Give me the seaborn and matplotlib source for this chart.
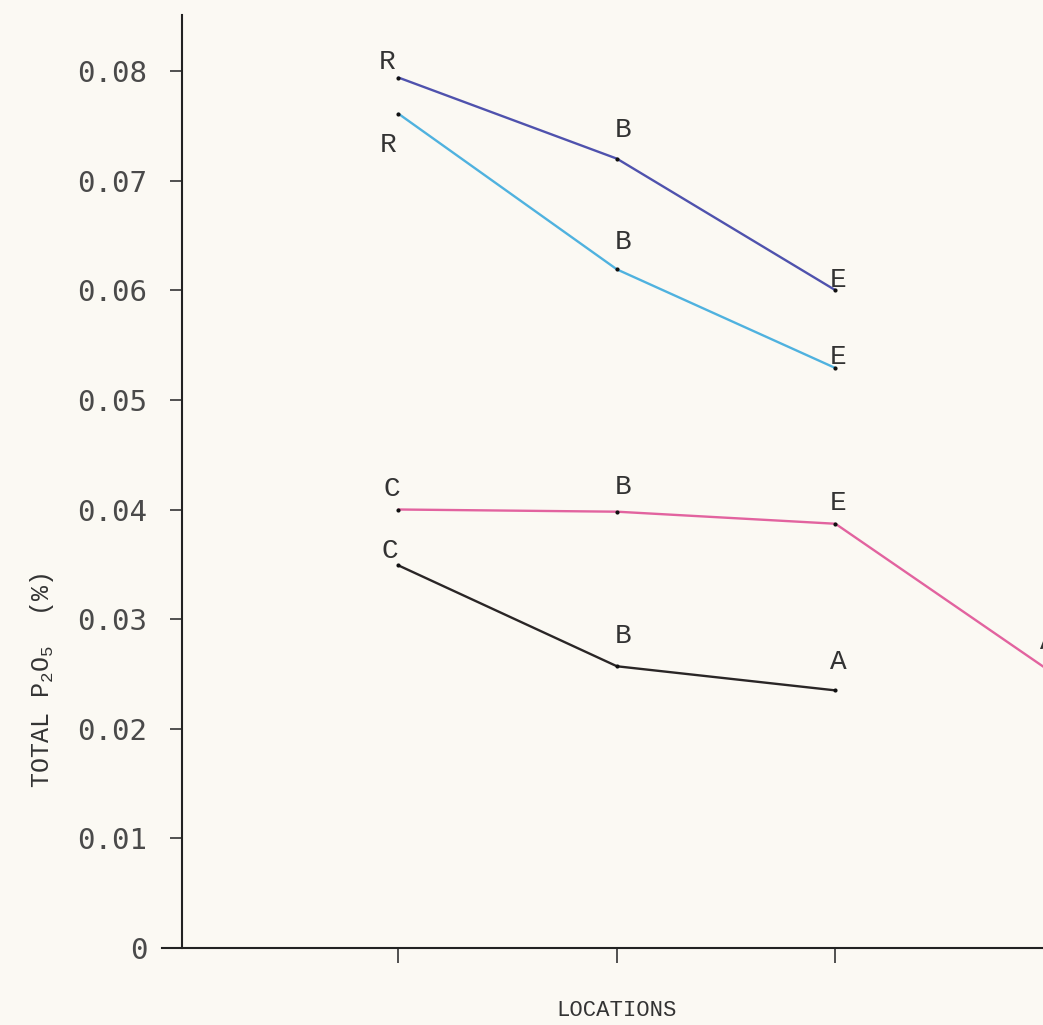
import matplotlib
matplotlib.use("Agg")
import matplotlib.pyplot as plt
import seaborn as sns
import pandas as pd
import numpy as np

# Series: location positions, P2O5 values and the location letter at each point
dark_x = [1, 2, 3]
dark_y = [0.0794, 0.0720, 0.0600]
dark_lab = ["R", "B", "E"]

light_x = [1, 2, 3]
light_y = [0.0761, 0.0619, 0.0529]
light_lab = ["R", "B", "E"]

pink_x = [1, 2, 3, 4]
pink_y = [0.0400, 0.0398, 0.0387, 0.0250]
pink_lab = ["C", "B", "E", "A"]

black_x = [1, 2, 3]
black_y = [0.0349, 0.0257, 0.0235]
black_lab = ["C", "B", "A"]

y_ticks = [0, 0.01, 0.02, 0.03, 0.04, 0.05, 0.06, 0.07, 0.08]
y_tick_labels = ["0", "0.01", "0.02", "0.03", "0.04", "0.05", "0.06", "0.07", "0.08"]
x_ticks = [1, 2, 3, 4]

series = {
    "upper": (dark_x, dark_y, dark_lab),
    "second": (light_x, light_y, light_lab),
    "third": (pink_x, pink_y, pink_lab),
    "lower": (black_x, black_y, black_lab),
}
colors = {"upper": "#4f52ad", "second": "#4fb2df", "third": "#e2639f", "lower": "#2a2626"}

frames = []
for name, (xs, ys, labs) in series.items():
    frames.append(pd.DataFrame({"loc": xs, "p2o5": ys, "series": name, "lab": labs}))
df = pd.concat(frames, ignore_index=True)

sns.set_theme(style="white")
paper = "#fbf9f3"
plt.rcParams["font.family"] = ["Liberation Mono", "DejaVu Sans Mono"]

fig = plt.figure(figsize=(10.43, 10.25), dpi=100, facecolor=paper)
ax = fig.add_axes([0.1558, 0.0751, 0.8442, 0.9102])
ax.set_facecolor(paper)

sns.lineplot(data=df, x="loc", y="p2o5", hue="series", palette=colors,
             sort=False, estimator=None, legend=False, linewidth=1.7, ax=ax)
sns.scatterplot(data=df, x="loc", y="p2o5", color="#111111", s=9,
                linewidth=0, legend=False, ax=ax, zorder=5)

# letter offsets (pixels) beside each point
offsets = {
    "upper": [(-11, 16), (6, 29), (3, 10)],
    "second": [(-10, -31), (6, 27), (3, 11)],
    "third": [(-7, 21), (6, 25), (3, 21), (-6, 32)],
    "lower": [(-9, 14), (6, 30), (3, 28)],
}
for name, (xs, ys, labs) in series.items():
    for (x, y, t), (dx, dy) in zip(zip(xs, ys, labs), offsets[name]):
        ax.annotate(t, (x, y), xytext=(dx, dy), textcoords="offset pixels",
                    ha="center", va="center", fontsize=20,
                    family="Liberation Mono", color="#333333",
                    annotation_clip=False)

ax.spines["left"].set_position(("data", 0.01))
for s in ["top", "right"]:
    ax.spines[s].set_visible(False)
for s in ["left", "bottom"]:
    ax.spines[s].set_color("#222222")
    ax.spines[s].set_linewidth(1.5)

ax.set_yticks(y_ticks)
ax.set_yticklabels(y_tick_labels, family="DejaVu Sans Mono", fontsize=21, color="#4a4a4a")
ax.set_xticks(x_ticks)
ax.set_xticklabels([])
ax.tick_params(axis="y", direction="out", length=9, width=1.2, color="#333333", pad=16, left=True)
ax.tick_params(axis="x", direction="out", length=11, width=1.2, color="#333333", bottom=True)
ax.set_xlabel("")
ax.set_ylabel("")
# limits set after the ticks so the fourth location sits just past the right edge
ax.set_xlim(-0.08, 3.95)
ax.set_ylim(0, 0.0851)

fig.text(617 / 1043, 1 - 1010 / 1025, "LOCATIONS", ha="center", va="center",
         fontsize=16, family="Liberation Mono", color="#333333")
fig.text(42 / 1043, 1 - 680 / 1025,
         r"TOTAL P$_{\mathregular{2}}$O$_{\mathregular{5}}$  (%)",
         rotation=90, ha="center", va="center", fontsize=18,
         family="Liberation Mono", color="#333333")

fig.savefig("out.png", dpi=100, facecolor=paper)
